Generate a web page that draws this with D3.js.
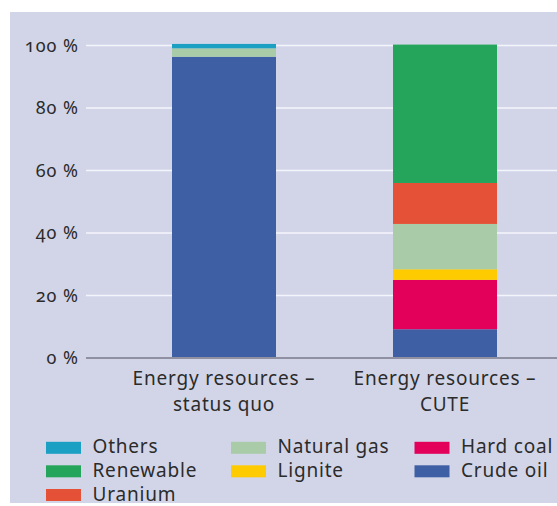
<!DOCTYPE html>
<html>
<head>
<meta charset="utf-8">
<script src="https://cdn.jsdelivr.net/npm/d3@7"></script>
<style>
  html, body { margin: 0; padding: 0; background: #ffffff; }
  svg { display: block; }
  text { font-family: "Noto Sans", "Open Sans", sans-serif; fill: #2b2b2b; }
  .tick-label { font-variant-numeric: oldstyle-nums; font-feature-settings: "onum" 1; letter-spacing: 1px; }
  .cat-label, .legend-label { letter-spacing: 0.8px; }
</style>
</head>
<body>
<svg id="chart" width="557" height="506"></svg>
<script>
// Categories (stacked columns) and x-axis label lines
const categories = ["status quo", "CUTE"];
const categoryLabels = [["Energy resources –", "status quo"], ["Energy resources –", "CUTE"]];

// Energy sources, bottom of the stack first
const sources = ["Crude oil", "Hard coal", "Lignite", "Natural gas", "Uranium", "Renewable", "Others"];

// Share of each source per column, in percent
const crudeOil   = [96.4, 9.2];
const hardCoal   = [0.0, 15.8];
const lignite    = [0.0, 3.4];
const naturalGas = [2.7, 14.5];
const uranium    = [0.0, 13.1];
const renewable  = [0.0, 44.3];
const others     = [1.4, 0.0];

// Y-axis ticks
const yTicks = [0, 20, 40, 60, 80, 100];

// Legend columns, top to bottom
const legendColumns = [
  ["Others", "Renewable", "Uranium"],
  ["Natural gas", "Lignite"],
  ["Hard coal", "Crude oil"]
];

const colors = {
  "Crude oil": "#3f5fa4",
  "Hard coal": "#e2005a",
  "Lignite": "#fecb00",
  "Natural gas": "#a9cba8",
  "Uranium": "#e55136",
  "Renewable": "#25a45b",
  "Others": "#1ba0c4"
};

const seriesValues = {
  "Crude oil": crudeOil, "Hard coal": hardCoal, "Lignite": lignite,
  "Natural gas": naturalGas, "Uranium": uranium, "Renewable": renewable, "Others": others
};

const table = categories.map((c, i) => {
  const row = { category: c };
  sources.forEach(s => row[s] = seriesValues[s][i]);
  return row;
});

const svg = d3.select("#chart");

// Panel background
svg.append("rect")
  .attr("x", 10).attr("y", 12)
  .attr("width", 547).attr("height", 491)
  .attr("fill", "#d2d5e8");

const y = d3.scaleLinear().domain([0, 100]).range([358, 45.5]);
const x = d3.scaleBand()
  .domain(categories)
  .range([116.75, 552.25])
  .paddingInner(0.5294)
  .paddingOuter(0.25);

// Gridlines
svg.append("g")
  .selectAll("line")
  .data(yTicks.filter(t => t > 0))
  .join("line")
  .attr("x1", 86).attr("x2", 557)
  .attr("y1", d => y(d)).attr("y2", d => y(d))
  .attr("stroke", "#f4f5fb")
  .attr("stroke-width", 1.6);

// Stacked bars
const stack = d3.stack().keys(sources);
const layers = stack(table);

svg.append("g")
  .selectAll("g")
  .data(layers)
  .join("g")
  .attr("fill", d => colors[d.key])
  .selectAll("rect")
  .data(d => d)
  .join("rect")
  .attr("x", d => x(d.data.category))
  .attr("width", x.bandwidth())
  .attr("y", d => y(d[1]))
  .attr("height", d => y(d[0]) - y(d[1]));

// Baseline
svg.append("line")
  .attr("x1", 86).attr("x2", 557)
  .attr("y1", y(0)).attr("y2", y(0))
  .attr("stroke", "#8f91a2")
  .attr("stroke-width", 2);

// Y tick labels
svg.append("g")
  .selectAll("text")
  .data(yTicks)
  .join("text")
  .attr("class", "tick-label")
  .attr("x", 79)
  .attr("y", d => y(d) + 6)
  .attr("text-anchor", "end")
  .attr("font-size", 18)
  .text(d => d + " %");

// X category labels
const xl = svg.append("g")
  .selectAll("text")
  .data(categories)
  .join("text")
  .attr("class", "cat-label")
  .attr("text-anchor", "middle")
  .attr("font-size", 19)
  .attr("x", d => x(d) + x.bandwidth() / 2)
  .attr("y", 385);
xl.selectAll("tspan")
  .data((d, i) => categoryLabels[i])
  .join("tspan")
  .attr("x", function () { return d3.select(this.parentNode).attr("x"); })
  .attr("dy", (d, i) => i === 0 ? 0 : 25.5)
  .text(d => d);

// Legend
const legendColX = [46, 231, 414.5];
const legendRowY = [453.3, 476.8, 500.5];
const legendItems = legendColumns.flatMap((col, ci) => col.map((name, ri) => ({ name, ci, ri })));
const legend = svg.append("g")
  .selectAll("g")
  .data(legendItems)
  .join("g")
  .attr("transform", d => `translate(${legendColX[d.ci]},${legendRowY[d.ri]})`);
legend.append("rect")
  .attr("x", 0).attr("y", -11.5)
  .attr("width", 35).attr("height", 12)
  .attr("fill", d => colors[d.name]);
legend.append("text")
  .attr("class", "legend-label")
  .attr("x", 46.5)
  .attr("y", 0)
  .attr("font-size", 19)
  .text(d => d.name);
</script>
</body>
</html>
